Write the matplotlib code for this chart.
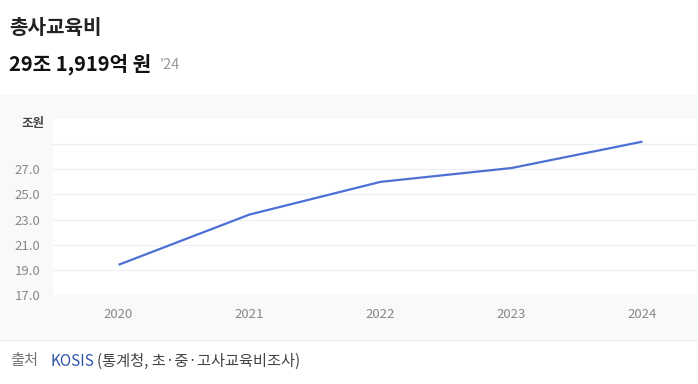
import matplotlib
matplotlib.use("Agg")
import matplotlib.pyplot as plt
from matplotlib.patches import Rectangle
from matplotlib.lines import Line2D

plt.rcParams["font.family"] = ["Noto Sans CJK KR", "DejaVu Sans"]

years = [2020, 2021, 2022, 2023, 2024]
spending = [19.4, 23.4, 26.0, 27.1, 29.2]
yticks = [17, 19, 21, 23, 25, 27, 29]
ytick_labels = ["17.0", "19.0", "21.0", "23.0", "25.0", "27.0", ""]

W, H = 698, 384
fig = plt.figure(figsize=(W / 100, H / 100), dpi=100)
fig.patch.set_facecolor("white")

# gray panel behind the chart
fig.patches.append(Rectangle((0, 1 - 339 / H), 1, (339 - 95) / H,
                             transform=fig.transFigure, facecolor="#f8f9fb",
                             edgecolor="none", zorder=-5))
fig.lines.append(Line2D([0, 1], [1 - 339.5 / H] * 2, transform=fig.transFigure,
                        color="#e6e8eb", lw=0.8, zorder=-4))

ax = fig.add_axes([53 / W, 1 - 295 / H, (W - 53) / W, (295 - 119) / H])
ax.set_zorder(2)
ax.set_facecolor("white")
ax.plot(years, spending, color="#4c70d4", lw=1.6, solid_capstyle="butt", zorder=3)

ax.set_xlim(2019.5, 2019.5 + (W - 53) / 131)
ax.set_ylim(17, 31)
ax.set_xticks(years)
ax.set_xticklabels([str(y) for y in years])
ax.set_yticks(yticks)
ax.set_yticklabels(ytick_labels)
ax.grid(axis="y", color="#eeeff2", lw=0.8)
ax.tick_params(length=0, colors="#888888", labelsize=9.5)
ax.tick_params(axis="x", pad=9)
ax.tick_params(axis="y", pad=9)
for s in ax.spines.values():
    s.set_visible(False)

fig.text(44 / W, 1 - 124 / H, "조원", fontsize=9, fontweight="bold",
         color="#444444", ha="right", va="center")

fig.text(9 / W, 1 - 28 / H, "총사교육비", fontsize=14.5, fontweight="bold",
         color="#222222", va="center")
fig.text(9 / W, 1 - 64 / H, "29조 1,919억 원", fontsize=14.5, fontweight="bold",
         color="#111111", va="center")
fig.text(160 / W, 1 - 65 / H, "'24", fontsize=10.5, color="#999999", va="center")

fig.text(10 / W, 1 - 361 / H, "출처", fontsize=11, color="#777777", va="center")
fig.text(50 / W, 1 - 361 / H, "KOSIS", fontsize=11, color="#2f55a8", va="center")
fig.text(97 / W, 1 - 361 / H, "(통계청, 초·중·고사교육비조사)", fontsize=11,
         color="#444444", va="center")

fig.savefig("out.png", dpi=100)
